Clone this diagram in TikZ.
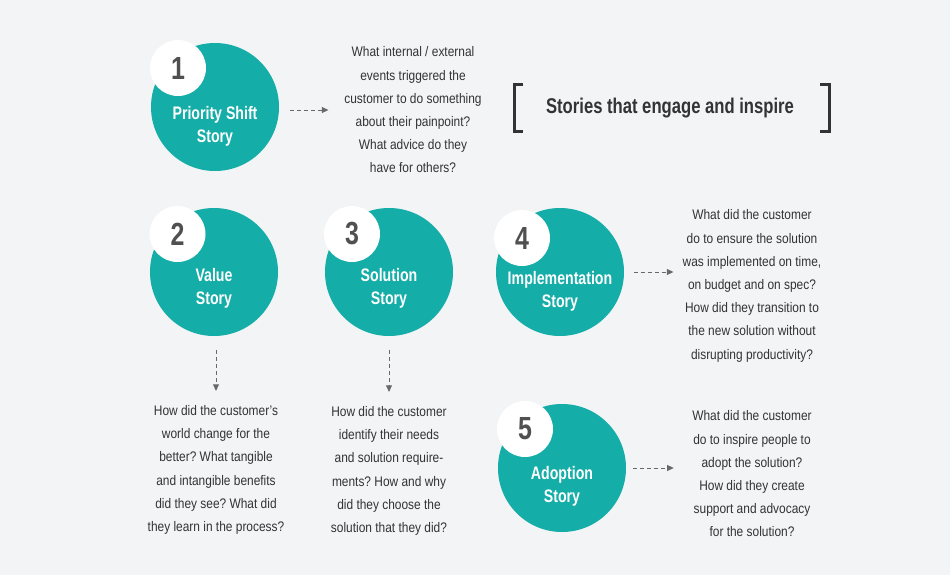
\documentclass[tikz,border=0pt]{standalone}
\usepackage{fontspec}
\setmainfont{Liberation Sans}[FakeStretch=0.86]
\newfontfamily\headfont{Liberation Sans}[FakeStretch=0.78]
\usepackage{xcolor}
\usetikzlibrary{arrows.meta}
\frenchspacing

\definecolor{storyteal}{RGB}{20,173,168}
\definecolor{pagebg}{RGB}{243,244,246}
\definecolor{numgray}{RGB}{80,80,80}
\definecolor{txtgray}{RGB}{51,51,51}
\definecolor{arrgray}{RGB}{105,105,105}

\tikzset{
  story/.style={circle, fill=storyteal, minimum size=96pt, inner sep=0pt},
  badge/.style={circle, fill=white, minimum size=42pt, inner sep=0pt, text=numgray,
    font=\headfont\bfseries\fontsize{24}{24}\selectfont},
  storylabel/.style={text=white, align=center, inner sep=0.75pt,
    font=\headfont\bfseries\fontsize{13.6}{17.25}\selectfont},
  question/.style={text=txtgray, align=center, inner sep=0.75pt,
    font=\fontsize{10.4}{17.4}\selectfont},
  flow/.style={arrgray, line width=0.75pt, dash pattern=on 3pt off 2.25pt,
    -{Triangle[length=5pt,width=4.5pt]}},
  bracket/.style={draw=txtgray, line width=2.25pt}
}

\begin{document}
\begin{tikzpicture}[x=0.75pt,y=0.75pt,yscale=-1,xscale=1]
    %set diagram to 950 x 575
    \fill[pagebg] (0,0) rectangle (950,575);
    \useasboundingbox (0,0) rectangle (950,575);

    %Shape: Circle [story circles]
    \node[story] (c1) at (215,107) {};
    \node[story] (c2) at (214,272) {};
    \node[story] (c3) at (389,272) {};
    \node[story] (c4) at (560,272) {};
    \node[story] (c5) at (562,468) {};

    %Shape: Circle [number badges]
    \node[badge] (n1) at (178,68) {1};
    \node[badge] (n2) at (177.5,234) {2};
    \node[badge] (n3) at (352,234) {3};
    \node[badge] (n4) at (522,238) {4};
    \node[badge] (n5) at (525,429) {5};

    % Text Node
    \node[storylabel] (lab1) at (215,126) {Priority Shift\\Story};
    % Text Node
    \node[storylabel] (lab2) at (214,288) {Value\\Story};
    % Text Node
    \node[storylabel] (lab3) at (389,288) {Solution\\Story};
    % Text Node
    \node[storylabel] (lab4) at (560,291) {Implementation\\Story};
    % Text Node
    \node[storylabel] (lab5) at (562,486) {Adoption\\Story};

    % Text Node
    \node[question] (q1) at (413,110) {What internal / external\\events triggered the\\customer to do something\\about their painpoint?\\What advice do they\\have for others?};
    % Text Node
    \node[question] (q2) at (216,470) {How did the customer's\\world change for the\\better? What tangible\\and intangible benefits\\did they see? What did\\they learn in the process?};
    % Text Node
    \node[question] (q3) at (389,471) {How did the customer\\identify their needs\\and solution require-\\ments? How and why\\did they choose the\\solution that they did?};
    % Text Node
    \node[question] (q4) at (752,286) {What did the customer\\do to ensure the solution\\was implemented on time,\\on budget and on spec?\\How did they transition to\\the new solution without\\disrupting productivity?};
    % Text Node
    \node[question] (q5) at (752,474) {What did the customer\\do to inspire people to\\adopt the solution?\\How did they create\\support and advocacy\\for the solution?};

    % Title
    \node[text=txtgray, inner sep=0.75pt, font=\headfont\bfseries\fontsize{16}{20}\selectfont] (title) at (670,108) {Stories that engage and inspire};
    \draw[bracket] (523,84) -- (514,84) -- (514,131) -- (523,131);
    \draw[bracket] (820,84) -- (829,84) -- (829,131) -- (820,131);

    %Straight Lines [dashed arrows]
    \draw[flow, shorten <=8pt, shorten >=11pt] (c1.east |- q1.west) -- (q1.west);
    \draw[flow, shorten <=7pt, shorten >=6pt] (c4.east) -- (q4.west |- c4.east);
    \draw[flow, shorten <=5pt, shorten >=13pt] (c5.east) -- (q5.west |- c5.east);
    \draw[flow, shorten <=10pt, shorten >=10pt] (q2.north |- c2.south) -- (q2.north);
    \draw[flow, shorten <=10pt, shorten >=10pt] (c3.south) -- (c3.south |- q3.north);

\end{tikzpicture}
\end{document}
